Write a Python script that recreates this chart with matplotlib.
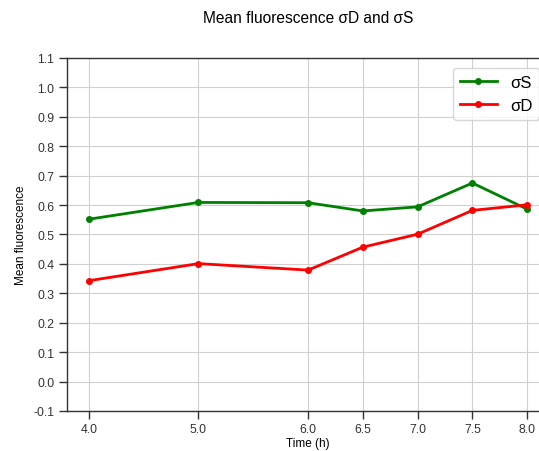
import matplotlib
matplotlib.use("Agg")
import matplotlib.pyplot as plt

plt.rcParams['font.family'] = ['Liberation Sans', 'DejaVu Sans']

# mean fluorescence over time
time_h = [4.0, 5.0, 6.0, 6.5, 7.0, 7.5, 8.0]
sigma_s = [0.552, 0.609, 0.608, 0.580, 0.594, 0.675, 0.586]
sigma_d = [0.343, 0.401, 0.379, 0.457, 0.501, 0.582, 0.601]
yticks = [-0.1, 0.0, 0.1, 0.2, 0.3, 0.4, 0.5, 0.6, 0.7, 0.8, 0.9, 1.0, 1.1]

fig = plt.figure(figsize=(5.39, 4.52), dpi=100)
ax = fig.add_axes([0.1243, 0.0885, 0.8945, 0.781])

ax.plot(time_h, sigma_s, color='green', marker='o', markersize=4, lw=2, label='σS')
ax.plot(time_h, sigma_d, color='red', marker='o', markersize=4, lw=2, label='σD')

ax.set_xlim(3.8, 8.2)
ax.set_ylim(-0.1, 1.1)
ax.set_xticks(time_h)
ax.set_xticklabels(['%.1f' % t for t in time_h])
ax.set_yticks(yticks)
ax.set_yticklabels(['%.1f' % v for v in yticks])
ax.grid(True, color='#d0d0d0', lw=0.8)
ax.set_axisbelow(True)

for side in ['left', 'bottom', 'top']:
    ax.spines[side].set_color('#333333')
    ax.spines[side].set_linewidth(1.0)
ax.spines['right'].set_visible(False)
ax.tick_params(colors='#333333', labelsize=8.8, length=6, width=1, pad=3)

ax.set_xlabel('Time (h)', fontsize=8.5, labelpad=1)
ax.set_ylabel('Mean fluorescence', fontsize=8.5, labelpad=5)
ax.set_title('Mean fluorescence σD and σS', fontsize=11.2, pad=26)

ax.legend(loc='upper right', fontsize=12, handlelength=2.2, borderaxespad=0.6)

fig.savefig('out.png', dpi=100)
